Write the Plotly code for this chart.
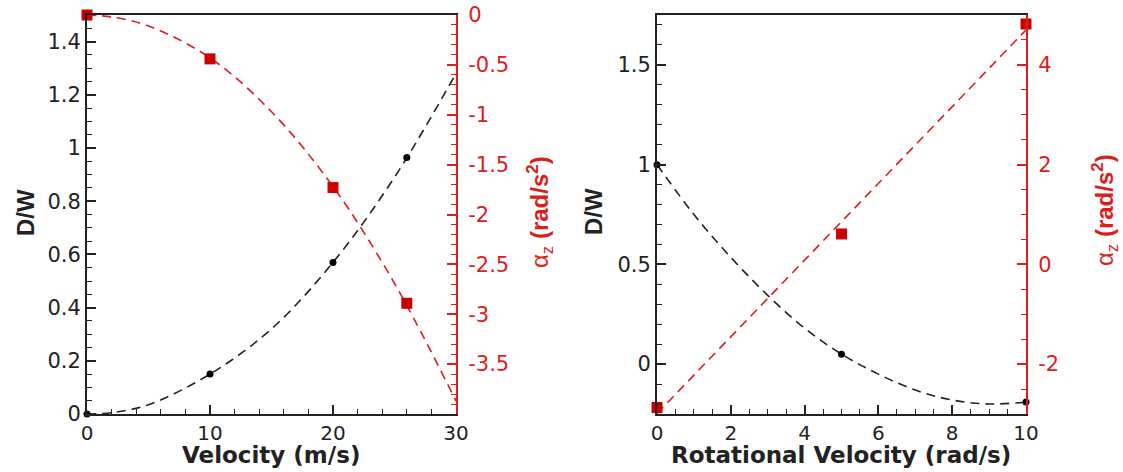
import plotly.graph_objects as go

# left panel: translational velocity
vel = [0, 10, 20, 26]
dw_vel = [0.0, 0.15, 0.57, 0.964]
az_vel = [0.0, -0.44, -1.73, -2.89]
# dashed fit curves
vel_fit = [0, 2, 5, 10, 15, 20, 25, 30]
dw_vel_fit = [0.0, 0.005, 0.035, 0.15, 0.32, 0.57, 0.89, 1.28]
az_vel_fit = [0.0, -0.02, -0.11, -0.43, -0.97, -1.72, -2.69, -3.87]

# right panel: rotational velocity
rot = [0, 5, 10]
dw_rot = [1.0, 0.05, -0.19]
az_rot = [-2.87, 0.61, 4.82]
rot_fit = [0, 1, 2, 3, 4, 5, 6, 7, 8, 9, 10]
dw_rot_fit = [1.0, 0.75, 0.535, 0.345, 0.18, 0.05, -0.05, -0.13, -0.18, -0.2, -0.19]
az_rot_fit = [-2.99, 4.70]
az_rot_fit_x = [0, 10]

# tick labels (hyphen minus like the original)
az_vel_ticks = [0, -0.5, -1, -1.5, -2, -2.5, -3, -3.5]
az_vel_text = ["0", "-0.5", "-1", "-1.5", "-2", "-2.5", "-3", "-3.5"]
az_rot_ticks = [-2, 0, 2, 4]
az_rot_text = ["-2", "0", "2", "4"]

BLACK = "#222222"
RED = "#dd1c1c"
MRED = "#cc0000"
W, H = 1123, 472
# the original is stretched sideways, a wide face copes best for horizontal text
WIDE = "DejaVu Sans, Verdana, sans-serif"
NARROW = "Liberation Sans, Arial, sans-serif"

fit_line_k = dict(color=BLACK, width=1.6, dash="9px,6px")
fit_line_r = dict(color=RED, width=1.6, dash="9px,6px")

fig = go.Figure()

# ---- left panel
fig.add_trace(go.Scatter(x=vel_fit, y=dw_vel_fit, mode="lines", line=fit_line_k,
                         line_shape="spline", xaxis="x", yaxis="y"))
fig.add_trace(go.Scatter(x=vel_fit, y=az_vel_fit, mode="lines", line=fit_line_r,
                         line_shape="spline", xaxis="x", yaxis="y2"))
fig.add_trace(go.Scatter(x=vel, y=dw_vel, mode="markers", cliponaxis=False,
                         marker=dict(color="black", size=7), xaxis="x", yaxis="y"))
fig.add_trace(go.Scatter(x=vel, y=az_vel, mode="markers", cliponaxis=False,
                         marker=dict(color=MRED, size=11, symbol="square"),
                         xaxis="x", yaxis="y2"))

# ---- right panel
fig.add_trace(go.Scatter(x=rot_fit, y=dw_rot_fit, mode="lines", line=fit_line_k,
                         line_shape="spline", xaxis="x2", yaxis="y3"))
fig.add_trace(go.Scatter(x=az_rot_fit_x, y=az_rot_fit, mode="lines", line=fit_line_r,
                         xaxis="x2", yaxis="y4"))
fig.add_trace(go.Scatter(x=rot, y=dw_rot, mode="markers", cliponaxis=False,
                         marker=dict(color="black", size=7), xaxis="x2", yaxis="y3"))
fig.add_trace(go.Scatter(x=rot, y=az_rot, mode="markers", cliponaxis=False,
                         marker=dict(color=MRED, size=11, symbol="square"),
                         xaxis="x2", yaxis="y4"))

# plot areas in pixels
L1, R1 = 87, 456
L2, R2 = 657, 1026
TOP, BOT = 15, 414
xd1 = [L1 / W, R1 / W]
xd2 = [L2 / W, R2 / W]
yd = [(H - BOT) / H, (H - TOP) / H]


def ax(color, rng, dtick, minor, size=21, **kw):
    d = dict(range=rng, showgrid=False, zeroline=False, showline=True,
             linecolor=color, linewidth=2, ticks="inside", ticklen=9,
             tickwidth=2, tickcolor=color, dtick=dtick, automargin=False,
             tickfont=dict(size=size, color=color, family=WIDE),
             minor=dict(ticks="inside", ticklen=5, tickwidth=1,
                        tickcolor=color, dtick=minor))
    d.update(kw)
    return d


layout_axes = dict(
    xaxis=ax(BLACK, [0, 30], 10, 2, size=20, domain=xd1, anchor="y", mirror=True),
    yaxis=ax(BLACK, [0, 1.5], 0.2, 0.05, domain=yd, anchor="x"),
    yaxis2=ax(RED, [-4, 0], 0.5, 0.1, overlaying="y", side="right", anchor="x",
              tickmode="array", tickvals=az_vel_ticks, ticktext=az_vel_text,
              ticklabelstandoff=6),
    xaxis2=ax(BLACK, [0, 10], 2, 0.5, size=20, domain=xd2, anchor="y3", mirror=True),
    yaxis3=ax(BLACK, [-0.25, 1.75], 0.5, 0.1, domain=yd, anchor="x2"),
    yaxis4=ax(RED, [-3, 5], 2, 0.5, overlaying="y3", side="right", anchor="x2",
              tickmode="array", tickvals=az_rot_ticks, ticktext=az_rot_text,
              ticklabelstandoff=6),
)

def px(xp, yp):
    return xp / W, 1 - yp / H

annots = []
x_title = dict(size=23, color=BLACK, family=WIDE)
y_title = dict(size=24, color=BLACK, family=NARROW)
red_title = dict(size=24, color=RED, family=NARROW)
AZ = "α<sub>z</sub> <b>(rad/s<sup>2</sup>)</b>"
for text, (xp, yp), f, ang in [
    ("<b>D/W</b>", (25, 213), y_title, -90),
    (AZ, (540, 212), red_title, -90),
    ("<b>Velocity (m/s)</b>", (271, 455), x_title, 0),
    ("<b>D/W</b>", (593, 212), y_title, -90),
    (AZ, (1105, 210), red_title, -90),
    ("<b>Rotational Velocity (rad/s)</b>", (841, 455), x_title, 0),
]:
    x, y = px(xp, yp)
    annots.append(dict(text=text, x=x, y=y, xref="paper", yref="paper",
                       xanchor="center", yanchor="middle", showarrow=False,
                       textangle=ang, font=f))

fig.update_layout(
    width=W, height=H,
    margin=dict(l=0, r=0, t=0, b=0, autoexpand=False),
    paper_bgcolor="white", plot_bgcolor="white",
    showlegend=False,
    font=dict(family=NARROW),
    annotations=annots,
    **layout_axes,
)

fig.write_html("out.html", config={"displayModeBar": False},
               post_script="document.body.style.margin='0';")
